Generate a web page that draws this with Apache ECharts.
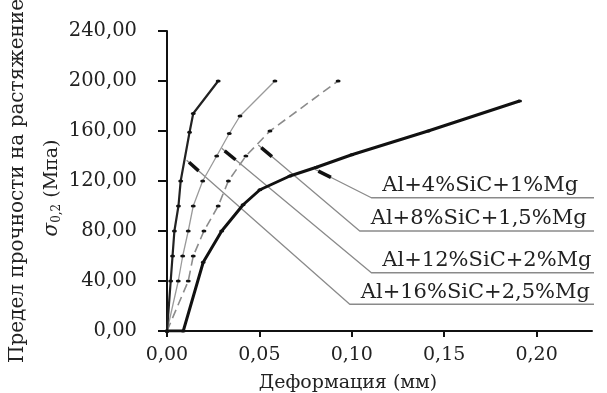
<!DOCTYPE html>
<html>
<head>
<meta charset="utf-8">
<script src="https://cdn.jsdelivr.net/npm/echarts@6/dist/echarts.min.js"></script>
<style>
	html, body {margin: 0; padding: 0; background: #fff;}
	#main {width: 607px; height: 393px;}
</style>
</head>
<body>
<div id="main"></div>
<script>
// подписи кривых
var series_names = ['Al+4%SiC+1%Mg', 'Al+8%SiC+1,5%Mg', 'Al+12%SiC+2%Mg', 'Al+16%SiC+2,5%Mg'];

// [деформация, напряжение]
var data_4 = [[0, 0], [0.0088, 0], [0.0196, 55], [0.0296, 80], [0.0412, 101], [0.0503, 113], [0.0665, 124], [0.0809, 131], [0.1, 141], [0.1413, 160], [0.1908, 184]];
var data_8 = [[0, 0], [0.0115, 40], [0.0142, 60], [0.020, 80], [0.0277, 100], [0.0332, 120], [0.0427, 140], [0.0557, 160], [0.0926, 200]];
var data_12 = [[0, 0], [0.0061, 40], [0.0085, 60], [0.0115, 80], [0.0142, 100], [0.0193, 120], [0.0269, 140], [0.0337, 158], [0.0395, 172], [0.0584, 200]];
var data_16 = [[0, 0], [0.002, 40], [0.003, 60], [0.004, 80], [0.0062, 100], [0.0074, 120], [0.0122, 159], [0.0142, 174], [0.0277, 200]];

// выноски: кончик -> излом -> конец подчёркивания
var leader_4 = [[0.080, 129.4], [0.1106, 106.6], [0.2324, 106.6]];
var leader_8 = [[0.0494, 148.8], [0.1043, 80], [0.2324, 80]];
var leader_12 = [[0.0296, 146.2], [0.1106, 46.6], [0.234, 46.6]];
var leader_16 = [[0.0106, 136.6], [0.0989, 21.4], [0.234, 21.4]];
// стрелки у кончиков
var arrow_4 = [[0.0819, 127.9], [0.0887, 122.9]];
var arrow_8 = [[0.051, 146.7], [0.0568, 139.5]];
var arrow_12 = [[0.0312, 144.1], [0.0371, 137]];
var arrow_16 = [[0.0119, 135], [0.0171, 128.1]];

var x_ticks = {min: 0, max: 0.23, interval: 0.05};
var y_ticks = {min: 0, max: 240, interval: 40};

var font = '"DejaVu Serif", "Liberation Serif", serif';
var chart = echarts.init(document.getElementById('main'));

function fmt(v) {
	return v.toFixed(2).replace('.', ',');
}

function curve(name, data, color, width, type) {
	return {
		name: name,
		type: 'line',
		data: data,
		symbol: 'circle',
		symbolSize: [5, 3],
		itemStyle: {color: '#111'},
		lineStyle: {color: color, width: width, type: type},
		silent: true,
		z: 3
	};
}

function leader(data, color, width) {
	return {
		type: 'line',
		data: data,
		symbol: 'none',
		clip: false,
		silent: true,
		lineStyle: {color: color, width: width},
		z: 2
	};
}

var option = {
	animation: false,
	grid: {left: 167, right: 15, top: 31, bottom: 62},
	xAxis: {
		type: 'value',
		min: x_ticks.min,
		max: x_ticks.max,
		interval: x_ticks.interval,
		splitLine: {show: false},
		axisLine: {lineStyle: {color: '#111', width: 2}},
		axisTick: {length: 6, lineStyle: {color: '#111', width: 2}},
		axisLabel: {formatter: fmt, showMaxLabel: false, margin: 15, fontFamily: font, fontSize: 19, color: '#222'}
	},
	yAxis: {
		type: 'value',
		min: y_ticks.min,
		max: y_ticks.max,
		interval: y_ticks.interval,
		splitLine: {show: false},
		axisLine: {show: true, lineStyle: {color: '#111', width: 2}},
		axisTick: {show: true, length: 9, lineStyle: {color: '#111', width: 2}},
		axisLabel: {formatter: fmt, margin: 30, fontFamily: font, fontSize: 19.5, color: '#222'}
	},
	series: [
		curve(series_names[0], data_4, '#111', 3, 'solid'),
		curve(series_names[1], data_8, '#8c8c8c', 1.6, [9, 5]),
		curve(series_names[2], data_12, '#9a9a9a', 1.3, 'solid'),
		curve(series_names[3], data_16, '#222', 2.2, 'solid'),
		leader(leader_4, '#8a8a8a', 1.3),
		leader(leader_8, '#8a8a8a', 1.3),
		leader(leader_12, '#8a8a8a', 1.3),
		leader(leader_16, '#8a8a8a', 1.3),
		leader(arrow_4, '#111', 3.5),
		leader(arrow_8, '#111', 3.5),
		leader(arrow_12, '#111', 3.5),
		leader(arrow_16, '#111', 3.5)
	]
};
chart.setOption(option);

/**
 * подписи выносок и осей
 */
function addTexts() {
	var leaders = [leader_4, leader_8, leader_12, leader_16];
	var items = [];
	leaders.forEach(function (l, i) {
		var p = chart.convertToPixel({gridIndex: 0}, l[1]);
		items.push({
			type: 'text',
			x: p[0] + 11,
			y: p[1] - 12,
			silent: true,
			style: {
				text: series_names[i],
				font: '21px ' + font,
				fill: '#222',
				align: 'left', verticalAlign: 'middle',
				textAlign: 'left', textVerticalAlign: 'middle'
			}
		});
	});
	items.push({
		type: 'text', x: 18, y: 181, rotation: Math.PI / 2, silent: true,
		style: {
			text: 'Предел прочности на растяжение',
			font: '20px ' + font, fill: '#222',
			align: 'center', verticalAlign: 'middle', textAlign: 'center', textVerticalAlign: 'middle'
		}
	});
	items.push({
		type: 'text', x: 52, y: 188, rotation: Math.PI / 2, silent: true,
		style: {
			text: '{s|σ}{sub|0,2}{a| (Мпа)}',
			align: 'center', verticalAlign: 'middle', textAlign: 'center', textVerticalAlign: 'middle',
			rich: {
				s: {font: 'italic 20px ' + font, fill: '#222'},
				sub: {font: '12px ' + font, fill: '#222', padding: [10, 0, 0, 0]},
				a: {font: '19px ' + font, fill: '#222'}
			}
		}
	});
	items.push({
		type: 'text', x: 348, y: 383, silent: true,
		style: {
			text: 'Деформация (мм)',
			font: '19px ' + font, fill: '#222',
			align: 'center', verticalAlign: 'middle', textAlign: 'center', textVerticalAlign: 'middle'
		}
	});
	chart.setOption({graphic: items});
}
addTexts();
</script>
</body>
</html>
